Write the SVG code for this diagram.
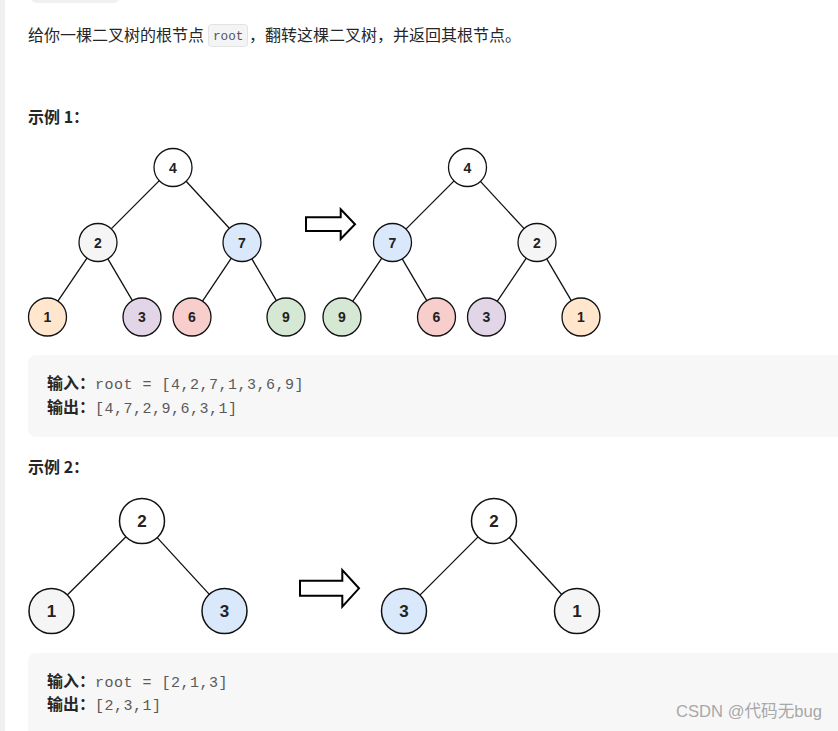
<svg xmlns="http://www.w3.org/2000/svg" width="838" height="731" viewBox="0 0 838 731">
<style>
.cjk{font-family:"Noto Sans CJK SC","Liberation Sans",sans-serif;fill:#262626}
.b{font-weight:bold}
.mono{font-family:"Liberation Mono","DejaVu Sans Mono",monospace;fill:#5a5a5a;font-size:15px;letter-spacing:0.5px}
.n circle{stroke:#111;stroke-width:1.3}
.n text{font-family:"Liberation Sans",Arial,sans-serif;font-weight:bold;font-size:14px;fill:#222;text-anchor:middle}
.n2 circle{stroke:#111;stroke-width:1.5}
.n2 text{font-family:"Liberation Sans",Arial,sans-serif;font-weight:bold;font-size:17px;fill:#222;text-anchor:middle}
.edges line{stroke:#111;stroke-width:1.3}
.arrow{fill:#fff;stroke:#000;stroke-width:2}
.box{fill:#f7f7f8}
</style>
<rect x="0" y="0" width="838" height="731" fill="#fff"/>
<rect x="0" y="0" width="5" height="731" fill="#f0f0f0"/>
<rect x="31" y="-8" width="88" height="11" rx="5" fill="#f0f0f0"/>

<!-- header -->
<text class="cjk" x="28" y="41" font-size="16">给你一棵二叉树的根节点</text>
<rect x="208.5" y="24.5" width="39" height="22" rx="3" fill="#f3f4f5" stroke="#e3e3e3"/>
<text x="213" y="40" font-family="Liberation Mono,DejaVu Sans Mono,monospace" font-size="12.7" fill="#555">root</text>
<text class="cjk" x="249" y="41" font-size="16">，翻转这棵二叉树，并返回其根节点。</text>

<text class="cjk b" x="28" y="123" font-size="16">示例 1：</text>

<!-- example 1 connectors -->
<g id="edges1" class="edges">
<line x1="159.6" y1="180.4" x2="111.4" y2="228.6"/>
<line x1="185.9" y1="181" x2="229.1" y2="228"/>
<line x1="87.3" y1="257.7" x2="57.7" y2="301.3"/>
<line x1="107.6" y1="258.4" x2="132.4" y2="300.6"/>
<line x1="231.5" y1="257.8" x2="202.5" y2="301.2"/>
<line x1="251.6" y1="258.4" x2="276.4" y2="300.6"/>
<line x1="454.1" y1="180.9" x2="405.9" y2="229.1"/>
<line x1="480.4" y1="181.4" x2="524.1" y2="228.6"/>
<line x1="381.8" y1="258.2" x2="352.7" y2="301.3"/>
<line x1="402.2" y1="258.9" x2="426.8" y2="300.6"/>
<line x1="526.3" y1="258.2" x2="497.2" y2="301.3"/>
<line x1="546.7" y1="258.9" x2="571.3" y2="300.6"/>
</g>

<g id="e1-l4" class="n"><circle cx="173" cy="167.5" r="19" fill="#fff"/><text x="173" y="172.5">4</text></g>
<g id="e1-l2" class="n"><circle cx="98" cy="242.5" r="19" fill="#f5f5f5"/><text x="98" y="247.5">2</text></g>
<g id="e1-l7" class="n"><circle cx="242" cy="242.5" r="19" fill="#dae8fc"/><text x="242" y="247.5">7</text></g>
<g id="e1-l1" class="n"><circle cx="47.5" cy="317" r="19" fill="#ffe6cc"/><text x="47.5" y="322">1</text></g>
<g id="e1-l3" class="n"><circle cx="142" cy="317" r="19" fill="#e1d5e7"/><text x="142" y="322">3</text></g>
<g id="e1-l6" class="n"><circle cx="192" cy="317" r="19" fill="#f8cecc"/><text x="192" y="322">6</text></g>
<g id="e1-l9" class="n"><circle cx="286" cy="317" r="19" fill="#d5e8d4"/><text x="286" y="322">9</text></g>

<g id="e1-arrow"><path class="arrow" d="M306,217.3 H340.7 V209.3 L355,224.2 L340.7,239 V231 H306 Z"/></g>

<g id="e1-r4" class="n"><circle cx="467.5" cy="167.5" r="19" fill="#fff"/><text x="467.5" y="172.5">4</text></g>
<g id="e1-r7" class="n"><circle cx="392.5" cy="242.5" r="19" fill="#dae8fc"/><text x="392.5" y="247.5">7</text></g>
<g id="e1-r2" class="n"><circle cx="537" cy="242.5" r="19" fill="#f5f5f5"/><text x="537" y="247.5">2</text></g>
<g id="e1-r9" class="n"><circle cx="342" cy="317" r="19" fill="#d5e8d4"/><text x="342" y="322">9</text></g>
<g id="e1-r6" class="n"><circle cx="436.5" cy="317" r="19" fill="#f8cecc"/><text x="436.5" y="322">6</text></g>
<g id="e1-r3" class="n"><circle cx="486.5" cy="317" r="19" fill="#e1d5e7"/><text x="486.5" y="322">3</text></g>
<g id="e1-r1" class="n"><circle cx="581" cy="317" r="19" fill="#ffe6cc"/><text x="581" y="322">1</text></g>

<!-- box 1 -->
<rect class="box" x="28" y="355" width="840" height="82" rx="8"/>
<text class="cjk b" x="47" y="389" font-size="16">输入：</text>
<text class="mono" x="95" y="389">root = [4,2,7,1,3,6,9]</text>
<text class="cjk b" x="47" y="413" font-size="16">输出：</text>
<text class="mono" x="95" y="413">[4,7,2,9,6,3,1]</text>

<text class="cjk b" x="28" y="473" font-size="16">示例 2：</text>

<g id="edges2" class="edges">
<line x1="126" y1="536.8" x2="67" y2="595.2" stroke-width="1.5"/>
<line x1="157.2" y1="537.6" x2="209.3" y2="594.4" stroke-width="1.5"/>
<line x1="478.1" y1="536.9" x2="419.9" y2="595.1" stroke-width="1.5"/>
<line x1="509.3" y1="537.5" x2="561.7" y2="594.5" stroke-width="1.5"/>
</g>

<g id="e2-l2" class="n2"><circle cx="142" cy="521" r="22.5" fill="#fff"/><text x="142" y="527">2</text></g>
<g id="e2-l1" class="n2"><circle cx="51.5" cy="611" r="22.5" fill="#f5f5f5"/><text x="51.5" y="617">1</text></g>
<g id="e2-l3" class="n2"><circle cx="224.5" cy="611" r="22.5" fill="#dae8fc"/><text x="224.5" y="617">3</text></g>

<g id="e2-arrow"><path class="arrow" d="M300,580.7 H342.3 V570 L359,588.3 L342.3,606.7 V595.7 H300 Z"/></g>

<g id="e2-r2" class="n2"><circle cx="494" cy="521" r="22.5" fill="#fff"/><text x="494" y="527">2</text></g>
<g id="e2-r3" class="n2"><circle cx="404" cy="611" r="22.5" fill="#dae8fc"/><text x="404" y="617">3</text></g>
<g id="e2-r1" class="n2"><circle cx="577" cy="611" r="22.5" fill="#f5f5f5"/><text x="577" y="617">1</text></g>

<!-- box 2 -->
<rect class="box" x="28" y="653" width="840" height="100" rx="8"/>
<text class="cjk b" x="47" y="687" font-size="16">输入：</text>
<text class="mono" x="95" y="687">root = [2,1,3]</text>
<text class="cjk b" x="47" y="710" font-size="16">输出：</text>
<text class="mono" x="95" y="710">[2,3,1]</text>

<text x="676" y="717" font-family="Liberation Sans,Noto Sans CJK SC,sans-serif" font-size="16.6" fill="#a8a8a8">CSDN @代码无bug</text>
</svg>
